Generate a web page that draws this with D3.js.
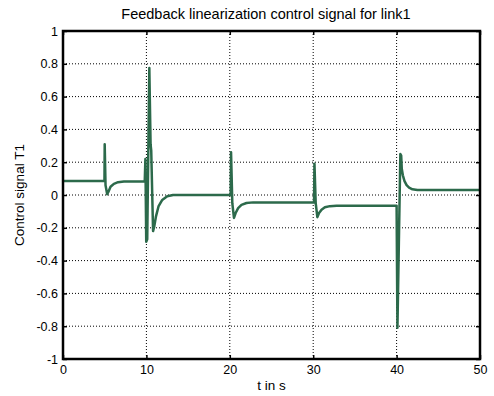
<!DOCTYPE html>
<html>
<head>
<meta charset="utf-8">
<script src="https://cdn.jsdelivr.net/npm/d3@7"></script>
<style>
  body { margin: 0; background: #fff; }
  svg { display: block; font-family: Arial, "Liberation Sans", sans-serif; }
</style>
</head>
<body>
<div id="chart"></div>
<script>
// time samples (s) and control signal T1
const timeVals = [
  0, 4.97, 5.0, 5.1, 5.3, 5.45, 5.7, 6.1, 6.6, 7.3,
  9.8, 9.88, 9.98, 10.1, 10.35, 10.5, 10.58, 10.8, 10.95, 11.15, 11.45, 11.9, 12.5, 13.2,
  20.1, 20.15, 20.3, 20.5, 20.7, 21.0, 21.4, 22.0, 22.8,
  30.1, 30.15, 30.3, 30.5, 30.7, 31.0, 31.4, 32.0, 32.8,
  40.0, 40.1, 40.45, 40.55, 40.62, 40.75, 40.95, 41.2, 41.5, 41.9, 42.5, 50
];
const signalVals = [
  0.085, 0.085, 0.31, 0.06, 0.005, 0.02, 0.05, 0.068, 0.078, 0.082,
  0.082, 0.22, -0.285, -0.27, 0.775, 0.31, 0.27, -0.22, -0.19, -0.13, -0.07, -0.03, -0.008, 0,
  0, 0.26, -0.05, -0.14, -0.11, -0.08, -0.06, -0.049, -0.045,
  -0.045, 0.19, -0.05, -0.135, -0.11, -0.09, -0.075, -0.068, -0.065,
  -0.065, -0.81, 0.25, 0.24, 0.16, 0.12, 0.085, 0.06, 0.045, 0.035, 0.03, 0.03
];
const xTicks = [0, 10, 20, 30, 40, 50];
const yTicks = [-1, -0.8, -0.6, -0.4, -0.2, 0, 0.2, 0.4, 0.6, 0.8, 1];

const width = 494, height = 396;
const margin = { top: 31, right: 14, bottom: 37, left: 63 };
const innerW = width - margin.left - margin.right;
const innerH = height - margin.top - margin.bottom;

const svg = d3.select('#chart').append('svg')
  .attr('width', width)
  .attr('height', height);

const g = svg.append('g')
  .attr('transform', `translate(${margin.left},${margin.top})`);

const x = d3.scaleLinear().domain([0, 50]).range([0, innerW]);
const y = d3.scaleLinear().domain([-1, 1]).range([innerH, 0]);

// dotted grid
g.append('g').selectAll('line')
  .data(xTicks.slice(1, -1))
  .enter().append('line')
    .attr('x1', d => x(d)).attr('x2', d => x(d))
    .attr('y1', 0).attr('y2', innerH)
    .attr('stroke', '#000').attr('stroke-width', 1)
    .attr('stroke-dasharray', '1,2');

g.append('g').selectAll('line')
  .data(yTicks.slice(1, -1))
  .enter().append('line')
    .attr('y1', d => y(d)).attr('y2', d => y(d))
    .attr('x1', 0).attr('x2', innerW)
    .attr('stroke', '#000').attr('stroke-width', 1)
    .attr('stroke-dasharray', '1,2');

// signal
const line = d3.line()
  .x((d, i) => x(timeVals[i]))
  .y(d => y(d));

g.append('path')
  .datum(signalVals)
  .attr('fill', 'none')
  .attr('stroke', '#2c6a4b')
  .attr('stroke-width', 2.5)
  .attr('stroke-linejoin', 'round')
  .attr('d', line);

// axes (ticks inside, MATLAB-like box), plain hyphen for negatives
const fmt = d => String(+d.toFixed(1));
const axB = g.append('g').attr('transform', `translate(0,${innerH})`)
  .call(d3.axisBottom(x).tickValues(xTicks).tickSizeInner(-4).tickSizeOuter(0).tickPadding(6).tickFormat(fmt));
const axL = g.append('g')
  .call(d3.axisLeft(y).tickValues(yTicks).tickSizeInner(-4).tickSizeOuter(0).tickPadding(5).tickFormat(fmt));
const axT = g.append('g')
  .call(d3.axisTop(x).tickValues(xTicks).tickSizeInner(-4).tickSizeOuter(0).tickFormat(''));
const axR = g.append('g').attr('transform', `translate(${innerW},0)`)
  .call(d3.axisRight(y).tickValues(yTicks).tickSizeInner(-4).tickSizeOuter(0).tickFormat(''));

[axB, axL, axT, axR].forEach(a => {
  a.select('.domain').remove();
  a.selectAll('.tick line').attr('stroke', '#000').attr('stroke-width', 1.5);
  a.selectAll('.tick text').attr('fill', '#000').style('font-size', '12.5px')
    .style('font-family', 'Arial, "Liberation Sans", sans-serif');
});

g.append('rect')
  .attr('x', 0).attr('y', 0)
  .attr('width', innerW).attr('height', innerH)
  .attr('fill', 'none')
  .attr('stroke', '#000')
  .attr('stroke-width', 2.5);

// labels
svg.append('text')
  .attr('x', 266)
  .attr('y', 19)
  .attr('text-anchor', 'middle')
  .style('font-size', '14.5px')
  .text('Feedback linearization control signal for link1');

svg.append('text')
  .attr('x', margin.left + innerW / 2)
  .attr('y', 390)
  .attr('text-anchor', 'middle')
  .style('font-size', '13.5px')
  .text('t in s');

svg.append('text')
  .attr('transform', `translate(24,${margin.top + innerH / 2}) rotate(-90)`)
  .attr('text-anchor', 'middle')
  .style('font-size', '13.5px')
  .text('Control signal T1');
</script>
</body>
</html>
